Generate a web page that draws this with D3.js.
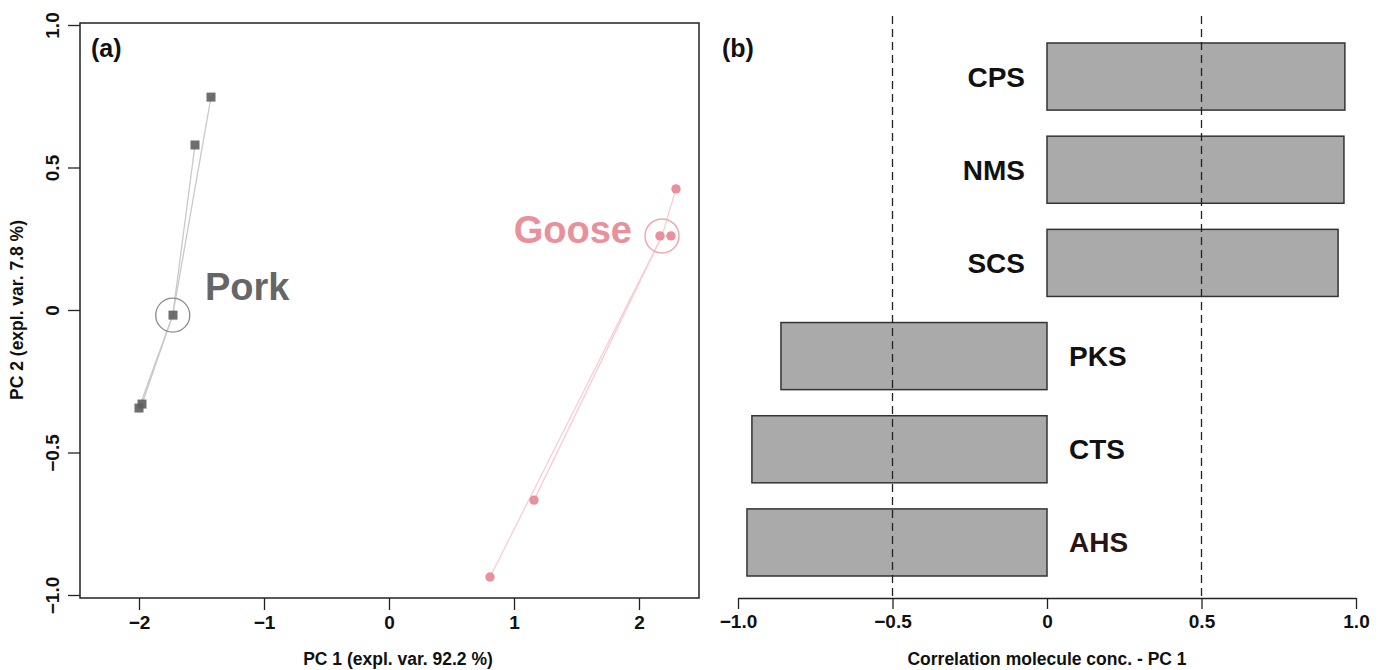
<!DOCTYPE html>
<html>
<head>
<meta charset="utf-8">
<script src="https://cdn.jsdelivr.net/npm/d3@7"></script>
<style>
  body { margin: 0; background: #fff; }
  svg text { font-family: "Liberation Sans", Arial, sans-serif; }
</style>
</head>
<body>
<div id="chart"></div>
<script>
// ---- data ----
var pc1Ticks = [-2, -1, 0, 1, 2];
var pc2Ticks = [-1, -0.5, 0, 0.5, 1];
var pc2TickLabels = ["\u22121.0", "\u22120.5", "0", "0.5", "1.0"];

var porkPC1 = [-1.424, -1.552, -1.728, -1.976, -2.000];
var porkPC2 = [0.747, 0.579, -0.018, -0.330, -0.344];
var porkCentroid = [-1.730, -0.018];

var goosePC1 = [2.296, 2.168, 2.256, 1.160, 0.808];
var goosePC2 = [0.425, 0.260, 0.260, -0.667, -0.937];
var gooseCentroid = [2.184, 0.260];

var genes = ["CPS", "NMS", "SCS", "PKS", "CTS", "AHS"];
var corrPC1 = [0.964, 0.961, 0.942, -0.861, -0.955, -0.971];
var corrTicks = [-1, -0.5, 0, 0.5, 1];
var corrTickLabels = ["\u22121.0", "\u22120.5", "0", "0.5", "1.0"];
var corrGuides = [-0.5, 0.5];

var W = 1384, H = 670;
var svg = d3.select("#chart").append("svg")
    .attr("width", W)
    .attr("height", H);

var fmtMinus = function (d) { return d < 0 ? "\u2212" + Math.abs(d) : String(d); };

// ================= panel (a) =================
var a = { left: 80, right: 699, top: 23, bottom: 598 };

var x = d3.scaleLinear().domain([-2, 2]).range([139, 639]);
var y = d3.scaleLinear().domain([-1, 1]).range([595, 25]);

var ga = svg.append("g");

// star lines from centroid
function starLines(px, py, c, color) {
    ga.selectAll(null)
        .data(px.map(function (d, i) { return [d, py[i]]; }))
        .enter()
        .append("line")
        .attr("x1", x(c[0]))
        .attr("y1", y(c[1]))
        .attr("x2", function (d) { return x(d[0]); })
        .attr("y2", function (d) { return y(d[1]); })
        .attr("stroke", color)
        .attr("stroke-width", 1.3);
}
starLines(porkPC1, porkPC2, porkCentroid, "#c9c9c9");
starLines(goosePC1, goosePC2, gooseCentroid, "#f7cdd3");

// centroid circles
ga.append("circle")
    .attr("cx", x(porkCentroid[0]))
    .attr("cy", y(porkCentroid[1]))
    .attr("r", 17)
    .attr("fill", "none")
    .attr("stroke", "#8a8a8a")
    .attr("stroke-width", 1.3);
ga.append("circle")
    .attr("cx", x(gooseCentroid[0]))
    .attr("cy", y(gooseCentroid[1]))
    .attr("r", 17)
    .attr("fill", "none")
    .attr("stroke", "#f0a9b3")
    .attr("stroke-width", 1.5);

// pork squares
ga.selectAll(".pork")
    .data(porkPC1.map(function (d, i) { return [d, porkPC2[i]]; }))
    .enter()
    .append("rect")
    .attr("class", "pork")
    .attr("x", function (d) { return x(d[0]) - 4.5; })
    .attr("y", function (d) { return y(d[1]) - 4.5; })
    .attr("width", 9)
    .attr("height", 9)
    .attr("fill", "#5e5e5e")
    .attr("fill-opacity", 0.9);

// goose dots
ga.selectAll(".goose")
    .data(goosePC1.map(function (d, i) { return [d, goosePC2[i]]; }))
    .enter()
    .append("circle")
    .attr("class", "goose")
    .attr("cx", function (d) { return x(d[0]); })
    .attr("cy", function (d) { return y(d[1]); })
    .attr("r", 4.7)
    .attr("fill", "#e8909c");

// group labels
ga.append("text")
    .attr("x", 205)
    .attr("y", 300)
    .attr("font-size", "38px")
    .attr("font-weight", "bold")
    .attr("fill", "#666666")
    .text("Pork");
ga.append("text")
    .attr("x", 632)
    .attr("y", 243)
    .attr("text-anchor", "end")
    .attr("font-size", "38px")
    .attr("font-weight", "bold")
    .attr("fill", "#e8909c")
    .text("Goose");

// box
ga.append("rect")
    .attr("x", a.left)
    .attr("y", a.top)
    .attr("width", a.right - a.left)
    .attr("height", a.bottom - a.top)
    .attr("fill", "none")
    .attr("stroke", "#222")
    .attr("stroke-width", 1.5);

// x axis (a)
var xAxisA = d3.axisBottom(x)
    .tickValues(pc1Ticks)
    .tickSize(12)
    .tickPadding(6)
    .tickFormat(fmtMinus);
var gxa = ga.append("g")
    .attr("transform", "translate(0," + a.bottom + ")")
    .call(xAxisA);
gxa.select(".domain").remove();

// y axis (a)
var yAxisA = d3.axisLeft(y)
    .tickValues(pc2Ticks)
    .tickSize(12)
    .tickFormat(function (d, i) { return pc2TickLabels[i]; });
var gya = ga.append("g")
    .attr("transform", "translate(" + a.left + ",0)")
    .call(yAxisA);
gya.select(".domain").remove();
gya.selectAll(".tick text")
    .attr("x", 0)
    .attr("dy", 0)
    .attr("text-anchor", "middle")
    .attr("transform", "translate(-21,0) rotate(-90)");

ga.append("text")
    .attr("x", 398)
    .attr("y", 665)
    .attr("text-anchor", "middle")
    .attr("font-size", "17.5px")
    .attr("font-weight", "bold")
    .attr("fill", "#111")
    .text("PC 1 (expl. var. 92.2 %)");
ga.append("text")
    .attr("transform", "translate(23,310) rotate(-90)")
    .attr("text-anchor", "middle")
    .attr("font-size", "17.5px")
    .attr("font-weight", "bold")
    .attr("fill", "#111")
    .text("PC 2 (expl. var. 7.8 %)");

ga.append("text")
    .attr("x", 91)
    .attr("y", 57)
    .attr("font-size", "25px")
    .attr("font-weight", "bold")
    .attr("fill", "#111")
    .text("(a)");

// ================= panel (b) =================
var xb = d3.scaleLinear().domain([-1, 1]).range([738, 1356]);
var yb = d3.scaleBand().domain(genes).range([43, 576]).paddingInner(0.28).paddingOuter(0);
var gb = svg.append("g");

gb.selectAll(".bar")
    .data(genes)
    .enter()
    .append("rect")
    .attr("class", "bar")
    .attr("x", function (d, i) { return xb(Math.min(0, corrPC1[i])); })
    .attr("y", function (d) { return yb(d); })
    .attr("width", function (d, i) { return Math.abs(xb(corrPC1[i]) - xb(0)); })
    .attr("height", yb.bandwidth())
    .attr("fill", "#aaaaaa")
    .attr("stroke", "#333")
    .attr("stroke-width", 1.5);

gb.selectAll(".guide")
    .data(corrGuides)
    .enter()
    .append("line")
    .attr("x1", function (d) { return xb(d); })
    .attr("x2", function (d) { return xb(d); })
    .attr("y1", 16)
    .attr("y2", 598)
    .attr("stroke", "#222")
    .attr("stroke-width", 1.3)
    .attr("stroke-dasharray", "8,5");

gb.selectAll(".glabel")
    .data(genes)
    .enter()
    .append("text")
    .attr("class", "glabel")
    .attr("x", function (d, i) { return corrPC1[i] > 0 ? xb(0) - 22 : xb(0) + 22; })
    .attr("y", function (d) { return yb(d) + yb.bandwidth() / 2 + 10; })
    .attr("text-anchor", function (d, i) { return corrPC1[i] > 0 ? "end" : "start"; })
    .attr("font-size", "28px")
    .attr("font-weight", "bold")
    .attr("fill", function (d) { return d === "AHS" ? "#2d1414" : "#111"; })
    .text(function (d) { return d; });

var xAxisB = d3.axisBottom(xb)
    .tickValues(corrTicks)
    .tickSize(11)
    .tickSizeOuter(0)
    .tickPadding(6)
    .tickFormat(function (d, i) { return corrTickLabels[i]; });
var gxb = gb.append("g")
    .attr("transform", "translate(0,598)")
    .call(xAxisB);

gb.append("text")
    .attr("x", 1047)
    .attr("y", 665)
    .attr("text-anchor", "middle")
    .attr("font-size", "17.5px")
    .attr("font-weight", "bold")
    .attr("fill", "#111")
    .text("Correlation molecule conc. - PC 1");

gb.append("text")
    .attr("x", 722)
    .attr("y", 57)
    .attr("font-size", "25px")
    .attr("font-weight", "bold")
    .attr("fill", "#111")
    .text("(b)");

// shared axis styling
svg.selectAll(".tick line").attr("stroke", "#222").attr("stroke-width", 1.3);
svg.selectAll(".domain").attr("stroke", "#222").attr("stroke-width", 1.3);
svg.selectAll(".tick text")
    .attr("font-family", "Liberation Sans, Arial, sans-serif")
    .attr("font-size", "19px")
    .attr("font-weight", "bold")
    .attr("fill", "#111");
</script>
</body>
</html>
